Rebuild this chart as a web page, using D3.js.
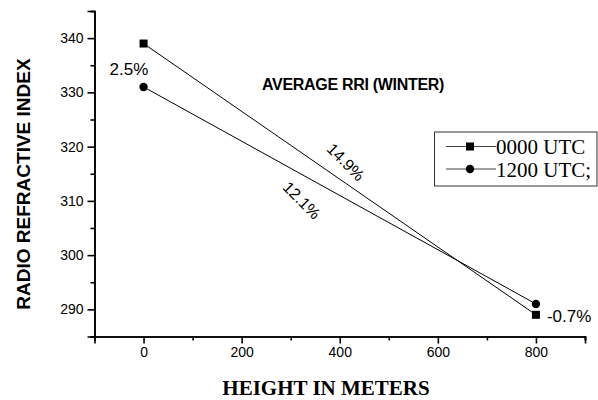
<!DOCTYPE html>
<html>
<head>
<meta charset="utf-8">
<script src="https://cdn.jsdelivr.net/npm/d3@7/dist/d3.min.js"></script>
<style>
  html, body { margin: 0; padding: 0; background: #fff; }
  svg { display: block; }
  .tick text { font-family: Arial, "Liberation Sans", sans-serif; font-size: 14px; fill: #000; }
</style>
</head>
<body>
<svg id="chart" width="598" height="400"></svg>
<script>
// Average radio refractive index (winter) against height
const heights = [0, 800];
const seriesNames = ["0000 UTC", "1200 UTC;"];
const utc0000 = [339, 289];
const utc1200 = [331, 291];
const markerShapes = ["square", "circle"];

const xMajorTicks = [0, 200, 400, 600, 800];
const xMinorTicks = [-100, 100, 300, 500, 700, 900];
const yMajorTicks = [290, 300, 310, 320, 330, 340];
const yMinorTicks = [285, 295, 305, 315, 325, 335, 345];

const pctFirst = "2.5%";
const pctLast = "-0.7%";
const pctSeries = ["14.9%", "12.1%"];

const svg = d3.select("#chart");
const x = d3.scaleLinear().domain([-100, 900]).range([94.5, 585]);
const y = d3.scaleLinear().domain([285, 345]).range([336.5, 11]);

const series = [utc0000, utc1200].map((vals, i) => ({
  name: seriesNames[i],
  shape: markerShapes[i],
  points: heights.map((h, j) => ({ h, v: vals[j] }))
}));

// Axes: outward ticks, major and minor
function styleAxis(g) {
  g.select(".domain").attr("stroke", "#000").attr("stroke-width", 1.6);
  g.selectAll(".tick line").attr("stroke", "#000").attr("stroke-width", 1.6);
}
const xAxisMinor = d3.axisBottom(x).tickValues(xMinorTicks).tickSize(4).tickFormat("");
const xAxis = d3.axisBottom(x).tickValues(xMajorTicks).tickSize(7).tickPadding(4).tickFormat(d3.format("d"));
const yAxisMinor = d3.axisLeft(y).tickValues(yMinorTicks).tickSize(4).tickFormat("");
const yAxis = d3.axisLeft(y).tickValues(yMajorTicks).tickSize(7).tickPadding(4).tickFormat(d3.format("d"));

svg.append("g").attr("transform", `translate(0,${y(285)})`).call(xAxisMinor).call(styleAxis);
svg.append("g").attr("transform", `translate(0,${y(285)})`).call(xAxis).call(styleAxis);
svg.append("g").attr("transform", `translate(${x(-100)},0)`).call(yAxisMinor).call(styleAxis);
svg.append("g").attr("transform", `translate(${x(-100)},0)`).call(yAxis).call(styleAxis);

// Axis titles
svg.append("text")
  .attr("x", 326).attr("y", 395)
  .attr("text-anchor", "middle")
  .style("font-family", "'Liberation Serif', 'Times New Roman', serif")
  .style("font-weight", "bold").style("font-size", "21px")
  .text("HEIGHT IN METERS");

svg.append("text")
  .attr("transform", "translate(30,184) rotate(-90)")
  .attr("text-anchor", "middle")
  .style("font-family", "Arial, 'Liberation Sans', sans-serif")
  .style("font-weight", "bold").style("font-size", "19px")
  .text("RADIO REFRACTIVE INDEX");

// Chart title
svg.append("text")
  .attr("x", 262).attr("y", 90)
  .style("font-family", "Arial, 'Liberation Sans', sans-serif")
  .style("font-weight", "bold").style("font-size", "16px")
  .style("letter-spacing", "-0.3px")
  .text("AVERAGE RRI (WINTER)");

// Series lines and markers
const line = d3.line().x(d => x(d.h)).y(d => y(d.v));
function drawMarker(sel, shape, cx, cy) {
  if (shape === "square") {
    sel.append("rect").attr("x", cx - 4).attr("y", cy - 4).attr("width", 8).attr("height", 8).attr("fill", "#000");
  } else {
    sel.append("circle").attr("cx", cx).attr("cy", cy).attr("r", 4.2).attr("fill", "#000");
  }
}
series.forEach(s => {
  svg.append("path").datum(s.points).attr("d", line)
    .attr("fill", "none").attr("stroke", "#000").attr("stroke-width", 1);
  const g = svg.append("g");
  s.points.forEach(p => drawMarker(g, s.shape, x(p.h), y(p.v)));
});

// Percentage annotations
const annoFont = "Arial, 'Liberation Sans', sans-serif";
svg.append("text")
  .attr("x", x(heights[0]) - 34)
  .attr("y", (y(utc0000[0]) + y(utc1200[0])) / 2 + 10)
  .style("font-family", annoFont).style("font-size", "17px")
  .text(pctFirst);

svg.append("text")
  .attr("x", x(heights[1]) + 11)
  .attr("y", y(utc0000[1]) + 7)
  .style("font-family", annoFont).style("font-size", "17px")
  .text(pctLast);

const offsets = [[6, -17], [-38, 5]];
series.forEach((s, i) => {
  const mx = (x(s.points[0].h) + x(s.points[1].h)) / 2 + offsets[i][0];
  const my = (y(s.points[0].v) + y(s.points[1].v)) / 2 + offsets[i][1];
  svg.append("text")
    .attr("transform", `translate(${mx},${my}) rotate(45)`)
    .attr("text-anchor", "middle").attr("dominant-baseline", "central")
    .style("font-family", annoFont).style("font-size", "16px")
    .text(pctSeries[i]);
});

// Legend
const legend = svg.append("g");
legend.append("rect")
  .attr("x", 434.5).attr("y", 132).attr("width", 162.5).attr("height", 54)
  .attr("fill", "#fff").attr("stroke", "#333").attr("stroke-width", 1);
const rowY = [146.5, 169];
series.forEach((s, i) => {
  legend.append("line")
    .attr("x1", 446).attr("x2", 496).attr("y1", rowY[i]).attr("y2", rowY[i])
    .attr("stroke", "#444").attr("stroke-width", 1);
  drawMarker(legend, s.shape, 470, rowY[i]);
  legend.append("text")
    .attr("x", 496).attr("y", rowY[i] + 7.5)
    .style("font-family", "'Liberation Serif', 'Times New Roman', serif")
    .style("font-size", "21px")
    .text(s.name);
});
</script>
</body>
</html>
